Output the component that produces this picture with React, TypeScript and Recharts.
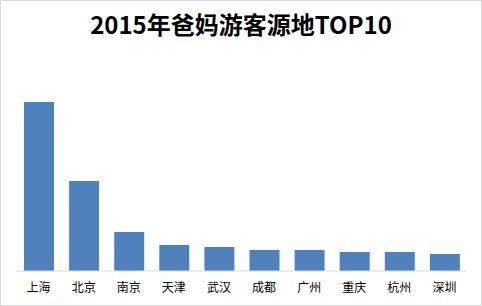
import React from 'react'
import { Bar, BarChart, XAxis, YAxis } from 'recharts'

// 城市 & 相对占比
const cities = ['上海', '北京', '南京', '天津', '武汉', '成都', '广州', '重庆', '杭州', '深圳']
const shares = [16.9, 9.0, 3.9, 2.6, 2.4, 2.1, 2.1, 1.9, 1.9, 1.7]

const data = cities.map((city, i) => ({ city, value: shares[i] }))

const font = '"Noto Sans CJK SC", "Noto Sans", sans-serif'

const App = () => {
    return (
        <div
            style={{
                position: 'absolute',
                left: 0,
                top: 0,
                width: 482,
                height: 306,
                background: '#fff',
                fontFamily: font,
            }}
        >
            <div
                style={{
                    position: 'absolute',
                    left: 0,
                    top: 6,
                    width: 482,
                    textAlign: 'center',
                    fontSize: 24,
                    fontWeight: 700,
                    lineHeight: '36px',
                    color: '#000',
                }}
            >
                2015年爸妈游客源地TOP10
            </div>
            <BarChart
                width={482}
                height={306}
                data={data}
                margin={{ top: 102, right: 15, left: 16, bottom: 5 }}
            >
                <XAxis
                    dataKey="city"
                    tickLine={false}
                    axisLine={{ stroke: '#d9d9d9' }}
                    tick={{ fontSize: 12, fill: '#000', fontFamily: font }}
                    tickMargin={6}
                    height={30}
                    interval={0}
                />
                <YAxis hide domain={[0, 'dataMax']} />
                <Bar dataKey="value" fill="#4f81bd" barSize={30} isAnimationActive={false} />
            </BarChart>
            <div
                style={{
                    position: 'absolute',
                    left: 0,
                    top: 0,
                    width: 482,
                    height: 306,
                    boxSizing: 'border-box',
                    border: '1px solid #d9d9d9',
                    pointerEvents: 'none',
                }}
            />
        </div>
    )
}

export default App
